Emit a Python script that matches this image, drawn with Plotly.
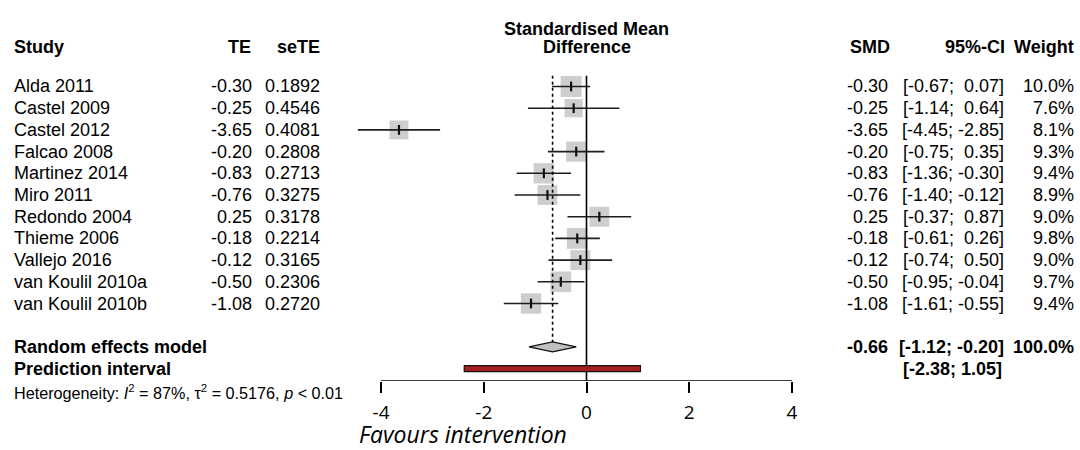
import plotly.graph_objects as go

# ---------------- data ----------------
studies = ["Alda 2011", "Castel 2009", "Castel 2012", "Falcao 2008", "Martinez 2014",
           "Miro 2011", "Redondo 2004", "Thieme 2006", "Vallejo 2016",
           "van Koulil 2010a", "van Koulil 2010b"]
te = [-0.30, -0.25, -3.65, -0.20, -0.83, -0.76, 0.25, -0.18, -0.12, -0.50, -1.08]
sete = ["0.1892", "0.4546", "0.4081", "0.2808", "0.2713", "0.3275", "0.3178",
        "0.2214", "0.3165", "0.2306", "0.2720"]
ci_lo = [-0.67, -1.14, -4.45, -0.75, -1.36, -1.40, -0.37, -0.61, -0.74, -0.95, -1.61]
ci_hi = [0.07, 0.64, -2.85, 0.35, -0.30, -0.12, 0.87, 0.26, 0.50, -0.04, -0.55]
weight = [10.0, 7.6, 8.1, 9.3, 9.4, 8.9, 9.0, 9.8, 9.0, 9.7, 9.4]

re_est, re_lo, re_hi = -0.66, -1.12, -0.20
pi_lo, pi_hi = -2.38, 1.05
tick_vals = [-4, -2, 0, 2, 4]
heterogeneity = "Heterogeneity: <i>I</i><sup>2</sup> = 87%, τ<sup>2</sup> = 0.5176, <i>p</i> &lt; 0.01"

# ---------------- layout geometry ----------------
W, H = 1080, 450
Y0, STEP = 86.5, 21.7          # pixel of first row, row spacing
AXIS_PX = 381                  # pixel of x axis line
X_M4, X_P4 = 381, 792          # pixels of -4 and 4
scale = (X_P4 - X_M4) / 8.0
x_zero = (X_M4 + X_P4) / 2
xr = [(0 - x_zero) / scale, (W - x_zero) / scale]
yr = [(AXIS_PX - Y0) / STEP, (0 - Y0) / STEP]
RE_ROW = len(studies) + 1
PI_ROW = len(studies) + 2

def pyp(row):
    return 1 - (Y0 + STEP * row) / H

def pxp(px):
    return px / W

FONT = "Liberation Sans, Arial, sans-serif"
FS = 18
fig = go.Figure()

rows = list(range(len(studies)))

# CI lines
cx, cy = [], []
for i, (lo, hi) in enumerate(zip(ci_lo, ci_hi)):
    cx += [lo, hi, None]
    cy += [i, i, None]
# squares
fig.add_trace(go.Scatter(x=te, y=rows, mode="markers",
                         marker=dict(symbol="square", color="#B9B9B9",
                                     size=[21 * (w / 10.0) ** 0.5 for w in weight],
                                     line=dict(width=0)),
                         hoverinfo="skip", showlegend=False))
fig.add_trace(go.Scatter(x=cx, y=cy, mode="lines", line=dict(color="#1E1E1E", width=1.6),
                         hoverinfo="skip", showlegend=False))
# point ticks
fig.add_trace(go.Scatter(x=te, y=rows, mode="markers",
                         marker=dict(symbol="line-ns", size=7,
                                     line=dict(color="#111111", width=2.2)),
                         hoverinfo="skip", showlegend=False))

# diamond
dh = 5.0 / STEP
fig.add_trace(go.Scatter(x=[re_lo, re_est, re_hi, re_est, re_lo],
                         y=[RE_ROW, RE_ROW - dh, RE_ROW, RE_ROW + dh, RE_ROW],
                         mode="lines", fill="toself", fillcolor="#C0C0C0",
                         line=dict(color="#111111", width=1.2),
                         hoverinfo="skip", showlegend=False))

# reference lines
top_row = -0.5
fig.add_shape(type="line", x0=0, x1=0, y0=top_row, y1=yr[0], xref="x", yref="y",
              line=dict(color="black", width=1.6))
fig.add_shape(type="line", x0=re_est, x1=re_est, y0=top_row, y1=RE_ROW - dh, xref="x", yref="y",
              line=dict(color="black", width=1.6, dash="dot"))
# prediction interval
ph = 3.0 / STEP
fig.add_shape(type="rect", x0=pi_lo, x1=pi_hi, y0=PI_ROW - ph, y1=PI_ROW + ph, xref="x", yref="y",
              fillcolor="#A41E22", line=dict(color="#111111", width=1.2))
# axis line
fig.add_shape(type="line", x0=tick_vals[0], x1=tick_vals[-1], y0=yr[0], y1=yr[0], xref="x", yref="y",
              line=dict(color="black", width=1.6))

ann = []
def txt(x, row, s, anchor, bold=False, size=FS, ypaper=None):
    ann.append(dict(x=pxp(x), y=pyp(row) if ypaper is None else ypaper, xref="paper", yref="paper",
                    text=f"<b>{s}</b>" if bold else s, showarrow=False,
                    xanchor=anchor, yanchor="middle",
                    font=dict(family=FONT, size=size, color="black")))

HDR = -1.8
# headers
txt(12, HDR, "Study", "left", True)
txt(253, HDR, "TE", "right", True)
txt(322, HDR, "seTE", "right", True)
txt(x_zero, HDR - 0.85, "Standardised Mean", "center", True)
txt(x_zero, HDR, "Difference", "center", True)
txt(892, HDR, "SMD", "right", True)
txt(1007, HDR, "95%-CI", "right", True)
txt(1076, HDR, "Weight", "right", True)

for i, s in enumerate(studies):
    txt(12, i, s, "left")
    txt(254, i, f"{te[i]:.2f}", "right")
    txt(322, i, sete[i], "right")
    txt(890, i, f"{te[i]:.2f}", "right")
    hi_s = f"{ci_hi[i]:.2f}"
    sep = "; " if ci_hi[i] < 0 else ";  "
    txt(1006, i, f"[{ci_lo[i]:.2f}{sep}{hi_s}]", "right")
    txt(1076, i, f"{weight[i]:.1f}%", "right")

txt(12, RE_ROW, "Random effects model", "left", True)
txt(890, RE_ROW, f"{re_est:.2f}", "right", True)
txt(1006, RE_ROW, f"[{re_lo:.2f}; {re_hi:.2f}]", "right", True)
txt(1076, RE_ROW, "100.0%", "right", True)
txt(12, PI_ROW, "Prediction interval", "left", True)
txt(1004, PI_ROW, f"[{pi_lo:.2f}; {pi_hi:.2f}]", "right", True)
txt(12, 0, heterogeneity, "left", size=16.2, ypaper=1 - 392 / H)
ann.append(dict(x=pxp(463), y=1 - 434 / H, xref="paper", yref="paper",
                text="<i>Favours intervention</i>", showarrow=False,
                xanchor="center", yanchor="middle",
                font=dict(family="Open Sans, sans-serif", size=23, color="black")))

fig.update_layout(
    width=W, height=H, margin=dict(l=0, r=0, t=0, b=0),
    paper_bgcolor="white", plot_bgcolor="white",
    annotations=ann, showlegend=False,
    xaxis=dict(domain=[0, 1], range=xr, showgrid=False, zeroline=False, showline=False,
               tickvals=tick_vals, ticktext=[str(v) for v in tick_vals],
               ticks="outside", ticklen=11, tickwidth=1.6, tickcolor="black",
               ticklabelstandoff=3,
               tickfont=dict(family="Open Sans, sans-serif", size=19, color="black"),
               fixedrange=True),
    yaxis=dict(domain=[1 - AXIS_PX / H, 1], range=yr, visible=False, fixedrange=True),
)

fig.write_html("out.html")
